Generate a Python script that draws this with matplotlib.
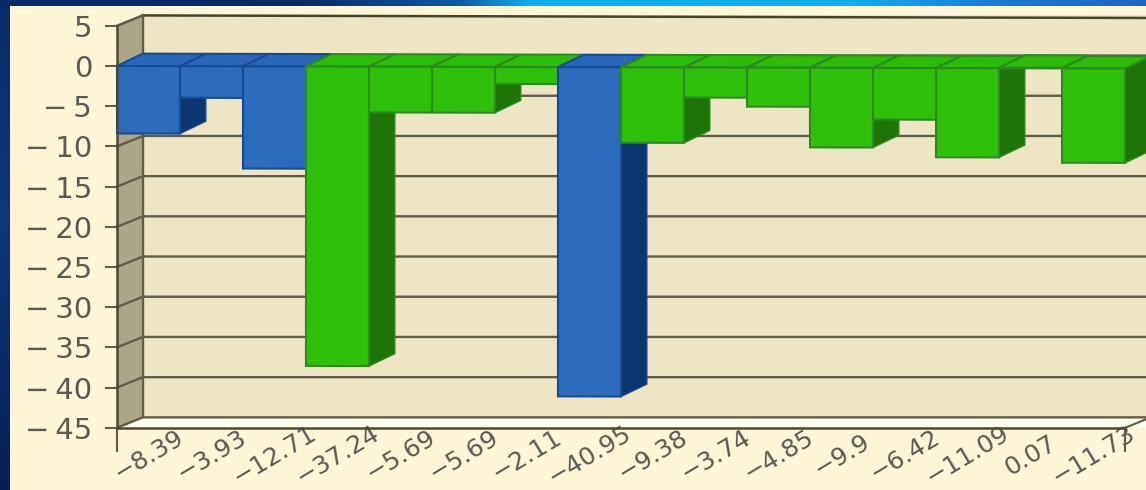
import numpy as np
import matplotlib
matplotlib.use('Agg')
import matplotlib.pyplot as plt
from matplotlib.patches import Polygon
from matplotlib.transforms import Affine2D

# Data
values = [-8.39, -3.93, -12.71, -37.24, -5.69, -5.69, -2.11, -40.95,
          -9.38, -3.74, -4.85, -9.9, -6.42, -11.09, 0.07, -11.73]
groups = ['a', 'a', 'a', 'b', 'b', 'b', 'b', 'a',
          'b', 'b', 'b', 'b', 'b', 'b', 'b', 'b']
x_labels = ['\u22128.39', '\u22123.93', '\u221212.71', '\u221237.24', '\u22125.69', '\u22125.69',
            '\u22122.11', '\u221240.95', '\u22129.38', '\u22123.74', '\u22124.85', '\u22129.9',
            '\u22126.42', '\u221211.09', '0.07', '\u221211.73']
y_ticks = [5, 0, -5, -10, -15, -20, -25, -30, -35, -40, -45]

# Colours and layout
COLORS = {
    'a': dict(front='#2D6BBD', side='#0B3670', top='#2866B8', edge='#174B92'),
    'b': dict(front='#2FC00C', side='#1F7408', top='#2EBC0C', edge='#2A8C1E'),
}
PX_X = 63.0
PX_Y = 8.04
DX = 0.41
DY = 1.55
WALL_DY = 1.3
GRID = '#5F5C4A'
TEXT = '#5A5A55'

fig = plt.figure(figsize=(11.46, 4.9), dpi=100)

# Blue frame behind the panel
bg = fig.add_axes([0, 0, 1, 1])
bg.axis('off')
frame = np.zeros((490, 1146, 3))
for k, (top_c, mid_c, low_c) in enumerate(zip((10, 42, 106), (15, 54, 122), (6, 30, 88))):
    frame[:, :, k] = np.interp(np.arange(490), [0, 220, 489], [top_c, mid_c, low_c])[:, None]
stops = [0, 300, 460, 530, 850, 1000, 1145]
for k, chan in enumerate([(10, 8, 16, 16, 16, 26, 30),
                          (42, 42, 90, 176, 176, 120, 100),
                          (106, 100, 170, 240, 240, 216, 200)]):
    frame[:8, :, k] = np.interp(np.arange(1146), stops, chan)
bg.imshow(frame / 255, aspect='auto')

# Panel, axes limits chosen so that value 0 and the first bar land where they should
ax = fig.add_axes([10 / 1146, 0, 1136 / 1146, 484 / 490], facecolor='#FFF6D8')
ax.set_xlim((10 - 117) / PX_X, (1146 - 117) / PX_X)
ax.set_ylim(-(490 - 66) / PX_Y, (66 - 6) / PX_Y)

n = len(values)
ymin, ymax = min(y_ticks), max(y_ticks)
xend = ax.get_xlim()[1] + 1

# The source picture sags a little to the right near the top
tilt = Affine2D.from_values(1, -0.02, 0, 1, 0, 0) + ax.transData

# Walls and floor
ax.add_patch(Polygon([(DX, ymin + WALL_DY), (xend, ymin + WALL_DY), (xend, ymax + WALL_DY), (DX, ymax + WALL_DY)],
                     fc='#EDE5C3', ec='none', zorder=1))
ax.add_patch(Polygon([(0, ymin), (DX, ymin + WALL_DY), (DX, ymax + WALL_DY), (0, ymax)],
                     fc='#ADA587', ec='none', zorder=1))
ax.add_patch(Polygon([(0, ymin), (n, ymin), (n + DX, ymin + WALL_DY), (DX, ymin + WALL_DY)],
                     fc='#FFFDEB', ec='none', zorder=1))
ax.add_patch(Polygon([(n, ymin), (xend, ymin), (xend, ymin + WALL_DY), (n + DX, ymin + WALL_DY)],
                     fc='#FFFDEB', ec='none', zorder=1))
for v in y_ticks:
    if v == ymax:
        ax.plot([0, DX], [v, v + WALL_DY], color=GRID, lw=1.8, zorder=2)
        ax.plot([DX, xend], [v + WALL_DY, v + WALL_DY], color='#45432F', lw=1.8, zorder=2, transform=tilt)
    else:
        ax.plot([0, DX, xend], [v, v + WALL_DY, v + WALL_DY], color=GRID, lw=1.7, zorder=2)
ax.plot([DX, DX], [ymin + WALL_DY, ymax + WALL_DY], color=GRID, lw=1.7, zorder=2)
ax.plot([n, n + DX], [ymin, ymin + WALL_DY], color=GRID, lw=1.5, zorder=2)

# Bars, left to right so each front hides the previous side
for i, (v, grp) in enumerate(zip(values, groups)):
    c = COLORS[grp]
    top = max(v, 0)
    low = min(v, 0)
    z = 3 + i * 0.01
    side = [(i + 1, top), (i + 1 + DX, top + DY), (i + 1 + DX, low + DY), (i + 1, low)]
    roof = [(i, top), (i + DX, top + DY), (i + 1 + DX, top + DY), (i + 1, top)]
    front = [(i, top), (i + 1, top), (i + 1, low), (i, low)]
    ax.add_patch(Polygon(side, fc=c['side'], ec=c['edge'], lw=1, zorder=z, transform=tilt))
    ax.add_patch(Polygon(roof, fc=c['top'], ec=c['edge'], lw=1.5, zorder=z, transform=tilt))
    ax.add_patch(Polygon(front, fc=c['front'], ec=c['edge'], lw=1.5, zorder=z, transform=tilt))

# Axes
for s in ['top', 'right']:
    ax.spines[s].set_visible(False)
ax.spines['left'].set_position(('data', 0))
ax.spines['left'].set_bounds(ymin, ymax)
ax.spines['bottom'].set_position(('data', ymin))
ax.spines['bottom'].set_bounds(0, n)
for s in ['left', 'bottom']:
    ax.spines[s].set_color('#4A4838')
    ax.spines[s].set_linewidth(1.8)
    ax.spines[s].set_zorder(6)

ax.set_yticks(y_ticks)
ax.set_yticklabels([str(v).replace('-', '\u2212\u2009') for v in y_ticks])
ax.tick_params(axis='y', length=9, width=1.5, color=GRID, labelsize=21, labelcolor=TEXT, pad=9)

ax.set_xticks([0, n])
ax.set_xticklabels(['', ''])
ax.tick_params(axis='x', which='major', length=17, width=1.5, color=GRID)
ax.set_xticks(np.arange(n) + 0.5, minor=True)
ax.set_xticklabels(x_labels, minor=True, rotation=31, ha='center', va='center',
                   fontsize=18, color=TEXT)
ax.tick_params(axis='x', which='minor', length=0, pad=20)

fig.savefig('out.png', dpi=100)
